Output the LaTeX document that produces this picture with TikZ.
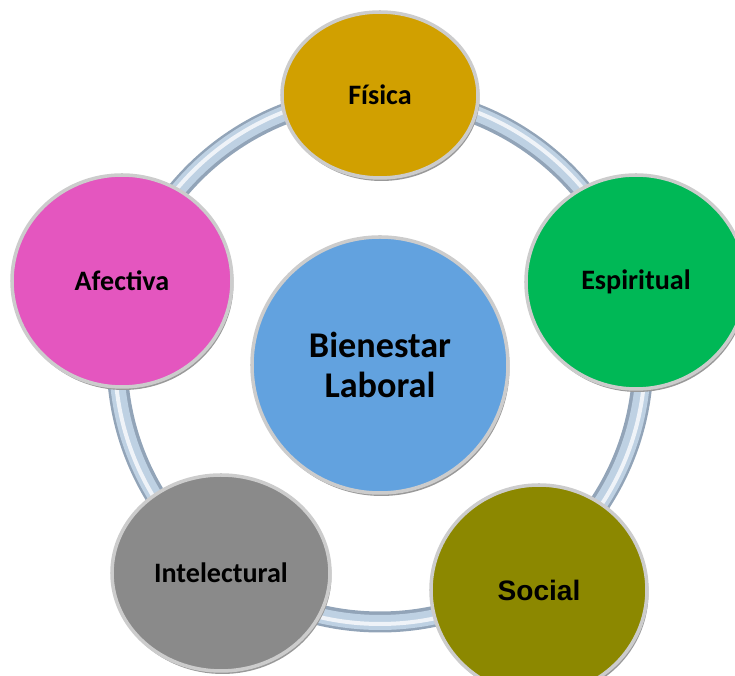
\documentclass[tikz,border=0pt]{standalone}
\usepackage{fontspec}
\setmainfont{Carlito}
\newfontfamily\arialfont{Liberation Sans}
\usetikzlibrary{shapes.geometric}
\definecolor{fisica}{RGB}{209,160,0}
\definecolor{espiritual}{RGB}{0,184,86}
\definecolor{social}{RGB}{140,136,0}
\definecolor{intelectual}{RGB}{138,138,138}
\definecolor{afectiva}{RGB}{228,86,191}
\definecolor{bienestar}{RGB}{98,162,223}
\definecolor{ringdark}{RGB}{146,164,184}
\definecolor{ringmid}{RGB}{190,209,227}

\begin{document}
\begin{tikzpicture}[
    ball/.style={ellipse, fill=#1, draw=black!20, line width=1pt, inner sep=0pt,
        font=\bfseries\fontsize{8}{9.6}\selectfont,
        preaction={fill=black!40, transform canvas={shift={(0.015,-0.03)}}}},
]
    \useasboundingbox (-3.80,-3.17) rectangle (3.55,3.59);
    \coordinate (hub) at (0,0);
    \draw[line width=0.21cm, color=ringdark] (hub) circle (2.63);
    \draw[line width=0.15cm, color=ringmid] (hub) circle (2.635);
    \draw[line width=0.04cm, color=white!75!ringmid] (hub) circle (2.65);
    \node[ball=fisica, minimum width=1.96cm, minimum height=1.66cm] (fisica) at (0,2.64) {Física};
    \node[ball=espiritual, minimum width=2.20cm, minimum height=2.14cm] (espiritual) at (2.56,0.77) {Espiritual};
    \node[ball=social, minimum width=2.16cm, minimum height=2.10cm,
        font=\arialfont\bfseries\fontsize{8}{9}\selectfont] (social) at (1.59,-2.31) {Social};
    \node[ball=intelectual, minimum width=2.18cm, minimum height=1.96cm] (intelectual) at (-1.59,-2.14) {Intelectural};
    \node[ball=afectiva, minimum width=2.20cm, minimum height=2.12cm] (afectiva) at (-2.58,0.78) {Afectiva};
    \node[ball=bienestar, minimum size=2.56cm, align=center,
        font=\bfseries\fontsize{10.3}{11.4}\selectfont] (bienestar) at (0,-0.06) {Bienestar\\Laboral};
\end{tikzpicture}
\end{document}
